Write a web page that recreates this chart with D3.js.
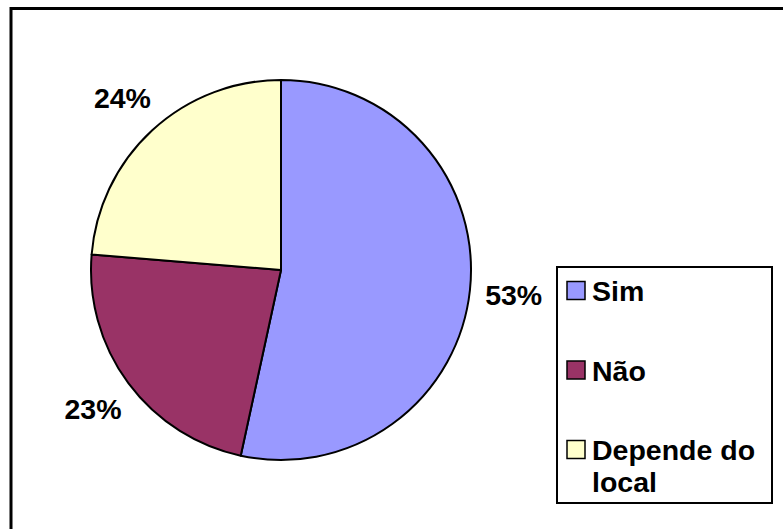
<!DOCTYPE html>
<html>
<head>
<meta charset="utf-8">
<script src="https://cdn.jsdelivr.net/npm/d3@7"></script>
<style>
  body { margin: 0; background: #fff; }
  text { font-family: "Liberation Sans", Arial, sans-serif; font-weight: bold; }
</style>
</head>
<body>
<script>
const w = 783
const h = 529

// data
const categories = ['Sim', 'Não', 'Depende do local']
const values = [53.4, 22.9, 23.7]
const pctLabels = ['53%', '23%', '24%']
const colors = ['#9999FF', '#993366', '#FFFFCC']

const svg = d3.select('body')
  .append('svg')
  .attr('width', w)
  .attr('height', h)

// chart border (right / bottom edges fall outside the picture)
svg.append('rect')
  .attr('x', 11)
  .attr('y', 8.5)
  .attr('width', 800)
  .attr('height', 600)
  .attr('fill', '#fff')
  .attr('stroke', '#000')
  .attr('stroke-width', 3)

const cx = 281
const cy = 270
const r = 190

const color = d3.scaleOrdinal().domain(categories).range(colors)

const pie = d3.pie().sort(null).value(d => d.value)
const arcs = pie(categories.map((c, i) => ({ name: c, value: values[i], label: pctLabels[i] })))

const arc = d3.arc().innerRadius(0).outerRadius(r)

const g = svg.append('g').attr('transform', `translate(${cx},${cy})`)

g.selectAll('path')
  .data(arcs)
  .enter()
  .append('path')
  .attr('d', arc)
  .attr('fill', d => color(d.data.name))
  .attr('stroke', '#000')
  .attr('stroke-width', 2)
  .attr('stroke-linejoin', 'round')

// percentage labels outside the pie
const labelArc = d3.arc().innerRadius(r + 44).outerRadius(r + 44)
g.selectAll('text.pct')
  .data(arcs)
  .enter()
  .append('text')
  .attr('class', 'pct')
  .attr('x', d => labelArc.centroid(d)[0])
  .attr('y', d => labelArc.centroid(d)[1])
  .attr('text-anchor', 'middle')
  .attr('dy', '0.35em')
  .style('font-size', '28.5px')
  .text(d => d.data.label)

// legend
const legend = svg.append('g').attr('transform', 'translate(557,267)')
legend.append('rect')
  .attr('width', 215)
  .attr('height', 236)
  .attr('fill', '#fff')
  .attr('stroke', '#000')
  .attr('stroke-width', 2)

const legendY = d3.scalePoint().domain(categories).range([23, 182])

const items = legend.selectAll('g.item')
  .data(categories)
  .enter()
  .append('g')
  .attr('class', 'item')
  .attr('transform', d => `translate(0,${legendY(d)})`)

items.append('rect')
  .attr('x', 10)
  .attr('y', -8.5)
  .attr('width', 18)
  .attr('height', 18)
  .attr('fill', d => color(d))
  .attr('stroke', '#000')
  .attr('stroke-width', 1.5)

items.append('text')
  .attr('x', 35)
  .attr('y', 11)
  .style('font-size', '28.5px')
  .each(function (d) {
    const words = d === 'Depende do local' ? ['Depende do', 'local'] : [d]
    d3.select(this).selectAll('tspan')
      .data(words)
      .enter()
      .append('tspan')
      .attr('x', 35)
      .attr('dy', (t, i) => i === 0 ? 0 : 32)
      .text(t => t)
  })
</script>
</body>
</html>
